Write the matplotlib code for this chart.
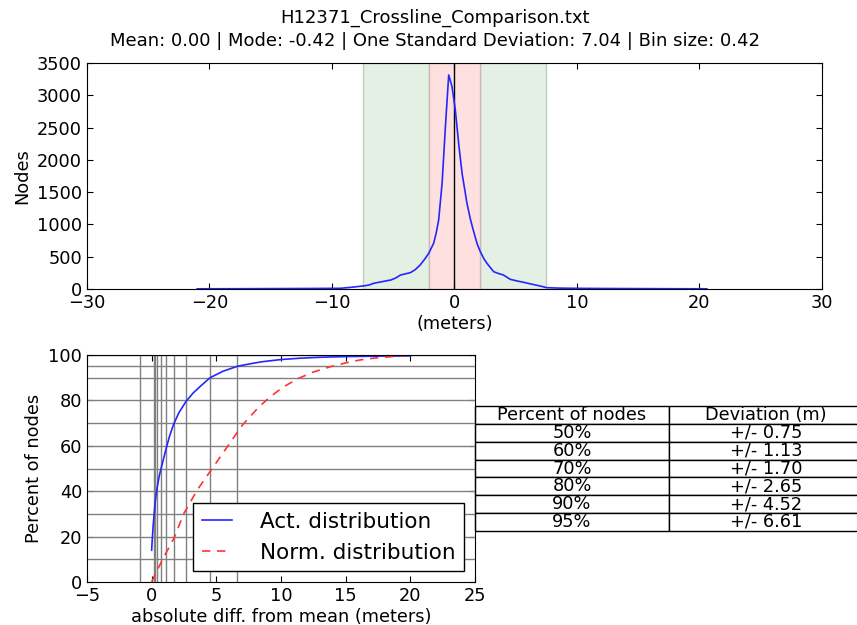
import matplotlib
matplotlib.use('Agg')
import matplotlib.pyplot as plot

plot.rcParams['font.family'] = 'DejaVu Sans'
plot.rcParams['font.size'] = 12.8
plot.rcParams['xtick.direction'] = 'in'
plot.rcParams['ytick.direction'] = 'in'
plot.rcParams['xtick.top'] = True
plot.rcParams['ytick.right'] = True
plot.rcParams['xtick.major.size'] = 4
plot.rcParams['ytick.major.size'] = 4

file_name = 'H12371_Crossline_Comparison.txt'
stats_line = 'Mean: 0.00 | Mode: -0.42 | One Standard Deviation: 7.04 | Bin size: 0.42'

# histogram of differences (bin centres in meters, node counts)
hist_x = [-21.0, -18.0, -15.0, -12.0, -10.0, -9.3, -8.5, -7.5, -7.0, -6.6, -6.0, -5.6,
          -5.2, -4.8, -4.4, -4.0, -3.6, -3.2, -2.8, -2.4, -2.1, -1.7, -1.5, -1.29, -1.01,
          -0.74, -0.47, -0.2, 0.07, 0.34, 0.62, 1.02, 1.3, 1.57, 1.85, 2.11, 2.4, 2.65,
          3.2, 3.6, 4.0, 4.55, 5.1, 5.64, 6.3, 7.0, 7.54, 8.5, 9.7, 12.0, 15.0, 18.0, 20.6]
hist_y = [3, 4, 6, 8, 10, 11, 25, 46, 60, 88, 110, 125,
          139, 170, 217, 235, 253, 300, 372, 470, 553, 708, 860, 1069, 1637,
          2514, 3315, 3134, 2773, 2257, 1792, 1328, 1080, 888, 700, 578, 470, 398,
          268, 240, 217, 150, 125, 104, 75, 46, 20, 14, 11, 8, 6, 4, 3]

inner_band = [-2.1, 2.1]
outer_band = [-7.5, 7.5]
mean_value = 0.0

# cumulative percent of nodes vs absolute difference
act_x = [0.0, 0.05, 0.12, 0.2, 0.3, 0.45, 0.6, 0.75, 0.93, 1.13, 1.4, 1.7, 2.1, 2.65,
         3.2, 3.8, 4.52, 5.5, 6.61, 7.5, 8.5, 10.0, 11.5, 13.0, 15.0, 17.5, 20.0]
act_y = [14, 19, 25, 30.5, 36.5, 42.5, 47, 50.5, 54.5, 59, 64.5, 69.5, 74.5, 79.5,
         83.2, 86.4, 90, 92.8, 95, 96, 97, 98, 98.6, 99, 99.3, 99.5, 99.6]

norm_x = [0.0, 0.5, 0.95, 1.72, 2.49, 3.52, 4.68, 5.84, 7.0, 8.27, 9.17, 10.2,
          11.36, 12.5, 13.8, 15.0, 16.1, 17.3, 18.4, 19.5]
norm_y = [0, 6, 11.1, 19.2, 30.2, 40.5, 50, 59.5, 69, 77, 81.6, 86,
          89.7, 92.5, 94.8, 96.5, 97.8, 98.7, 99.2, 99.6]

grid_y = [10, 20, 30, 40, 50, 60, 70, 80, 90, 95, 100]
grid_x = [-0.9, 0.15, 0.25, 0.45, 0.75, 1.13, 1.70, 2.65, 4.52, 6.61]

table_pct = ['50%', '60%', '70%', '80%', '90%', '95%']
table_dev = ['+/- 0.75', '+/- 1.13', '+/- 1.70', '+/- 2.65', '+/- 4.52', '+/- 6.61']

figure = plot.figure(figsize=(8.57, 6.25), dpi=100)

figure.text(0.508, 0.971, file_name, ha='center', va='center', fontsize=13)
figure.text(0.508, 0.934, stats_line, ha='center', va='center', fontsize=13)

# top: distribution
axes = figure.add_axes([0.1015, 0.5376, 0.8576, 0.3616])
axes.axvspan(outer_band[0], inner_band[0], facecolor=(0.89, 0.94, 0.89), edgecolor=(0.75, 0.8, 0.75), lw=1)
axes.axvspan(inner_band[1], outer_band[1], facecolor=(0.89, 0.94, 0.89), edgecolor=(0.75, 0.8, 0.75), lw=1)
axes.axvspan(inner_band[0], inner_band[1], facecolor=(1.0, 0.88, 0.88), edgecolor=(0.8, 0.72, 0.72), lw=1)
axes.axvline(mean_value, color='black', lw=1)
axes.plot(hist_x, hist_y, color=(0.15, 0.15, 1.0), lw=1.2)
axes.set_xlim(-30, 30)
axes.set_ylim(0, 3500)
axes.set_xticks([-30, -20, -10, 0, 10, 20, 30])
axes.set_yticks([0, 500, 1000, 1500, 2000, 2500, 3000, 3500])
axes.set_xlabel('(meters)', labelpad=2)
axes.set_ylabel('Nodes')

# bottom: cumulative
axes2 = figure.add_axes([0.1015, 0.0688, 0.4527, 0.3632])
for gy in grid_y:
    axes2.axhline(gy, color='0.5', lw=1)
for gx in grid_x:
    axes2.axvline(gx, color='0.5', lw=1)
axes2.plot(act_x, act_y, color=(0.15, 0.15, 1.0), lw=1.2, label='Act. distribution')
axes2.plot(norm_x, norm_y, '--', dashes=(5, 4), color=(1.0, 0.2, 0.2), lw=1.2,
           label='Norm. distribution')
axes2.set_xlim(-5, 25)
axes2.set_ylim(0, 100)
axes2.set_xticks([-5, 0, 5, 10, 15, 20, 25])
axes2.set_yticks([0, 20, 40, 60, 80, 100])
axes2.set_xlabel('absolute diff. from mean (meters)', labelpad=2)
axes2.set_ylabel('Percent of nodes')
legend = axes2.legend(loc='lower right', fontsize=15.5, handlelength=1.4, handletextpad=1.3,
                      fancybox=False, borderaxespad=0.5, framealpha=1)
legend.get_frame().set_edgecolor('black')

table = axes2.table(cellText=[[p, d] for p, d in zip(table_pct, table_dev)],
                    colLabels=['Percent of nodes', 'Deviation (m)'],
                    colWidths=[0.5, 0.5], loc='right', cellLoc='center')
table.auto_set_font_size(False)
table.set_fontsize(12.8)
table.scale(1, 1.07)

figure.savefig('out.png', dpi=100)
